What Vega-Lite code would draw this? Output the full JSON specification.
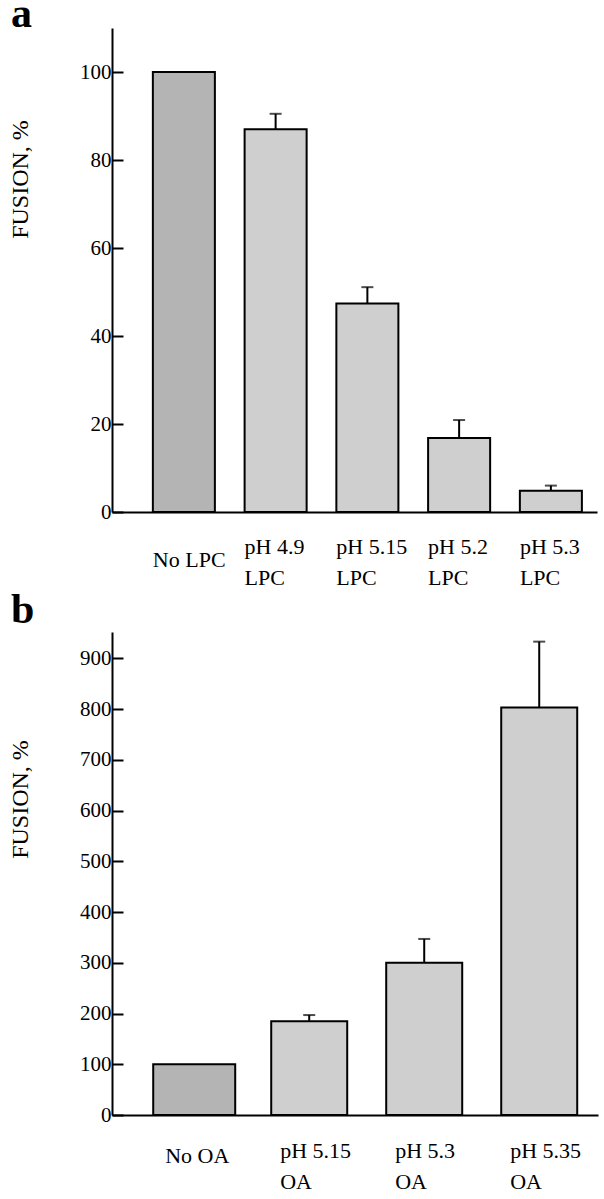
{
  "$schema": "https://vega.github.io/schema/vega-lite/v6.json",
  "padding": {"left": 8, "top": -7, "right": 5, "bottom": 2},
  "config": {
    "view": {"stroke": null},
    "font": "Liberation Serif",
    "axis": {
      "labelFont": "Liberation Serif",
      "titleFont": "Liberation Serif",
      "labelFontSize": 21,
      "labelColor": "black",
      "titleColor": "black",
      "domainColor": "black",
      "tickColor": "black",
      "domainWidth": 2,
      "tickWidth": 2,
      "grid": false
    },
    "title": {"font": "Liberation Serif", "fontSize": 42, "fontWeight": "bold", "anchor": "start", "color": "black", "frame": "group"},
    "concat": {"spacing": 1}
  },
  "vconcat": [
    {
      "title": {"text": "a", "dx": -101, "offset": -41, "baseline": "alphabetic"},
      "width": 485,
      "height": 484,
      "data": {"values": [
        {"cond": "No LPC", "fusion": 100, "upper": null, "pattern": "stipple"},
        {"cond": "pH 4.9\nLPC", "fusion": 87, "upper": 90.5, "pattern": "hatch"},
        {"cond": "pH 5.15\nLPC", "fusion": 47.4, "upper": 51.1, "pattern": "hatch"},
        {"cond": "pH 5.2\nLPC", "fusion": 16.8, "upper": 20.9, "pattern": "hatch"},
        {"cond": "pH 5.3\nLPC", "fusion": 4.85, "upper": 6.0, "pattern": "hatch"}
      ]},
      "encoding": {
        "x": {
          "field": "cond", "type": "nominal", "sort": null,
          "scale": {"paddingInner": 0.324, "paddingOuter": 0.305, "align": 0.73},
          "axis": {"title": null, "ticks": false, "labelAngle": 0, "labelAlign": "left", "labelOffset": -31, "labelBaseline": "middle", "labelFontSize": 22, "labelPadding": {"condition": {"test": "datum.value == 'No LPC'", "value": 47}, "value": 34}, "labelLineHeight": 31, "labelExpr": "split(datum.label, '\\n')"}
        }
      },
      "layer": [
        {
          "mark": {"type": "bar", "stroke": "black", "strokeWidth": 2},
          "encoding": {
            "y": {
              "field": "fusion", "type": "quantitative",
              "scale": {"domain": [0, 110], "nice": false},
              "axis": {"title": "FUSION, %", "values": [0, 20, 40, 60, 80, 100], "tickSize": -11, "labelPadding": 12, "titleFontSize": 24, "titleFontWeight": "normal", "titleBaseline": "alphabetic", "titleX": -85, "titleY": 151, "titleAngle": 270}
            },
            "fill": {"field": "pattern", "type": "nominal", "scale": {"domain": ["stipple", "hatch"], "range": ["#b4b4b4", "#cfcfcf"]}, "legend": null}
          }
        },
        {
          "transform": [{"filter": "datum.upper != null"}],
          "mark": {"type": "rule", "strokeWidth": 2, "color": "black"},
          "encoding": {"y": {"field": "fusion", "type": "quantitative"}, "y2": {"field": "upper"}}
        },
        {
          "transform": [{"filter": "datum.upper != null"}],
          "mark": {"type": "tick", "thickness": 2, "size": 12, "color": "black"},
          "encoding": {"y": {"field": "upper", "type": "quantitative"}}
        }
      ]
    },
    {
      "title": {"text": "b", "dx": -101, "offset": -33, "baseline": "alphabetic"},
      "width": 486,
      "height": 483,
      "data": {"values": [
        {"cond": "No OA", "fusion": 100, "upper": null, "pattern": "stipple"},
        {"cond": "pH 5.15\nOA", "fusion": 185, "upper": 197, "pattern": "hatch"},
        {"cond": "pH 5.3\nOA", "fusion": 300, "upper": 347, "pattern": "hatch"},
        {"cond": "pH 5.35\nOA", "fusion": 803, "upper": 933, "pattern": "hatch"}
      ]},
      "encoding": {
        "x": {
          "field": "cond", "type": "nominal", "sort": null,
          "scale": {"paddingInner": 0.34, "paddingOuter": 0.283, "align": 0.68},
          "axis": {"title": null, "ticks": false, "labelAngle": 0, "labelAlign": "left", "labelOffset": -29, "labelBaseline": "middle", "labelFontSize": 22, "labelPadding": {"condition": {"test": "datum.value == 'No OA'", "value": 40}, "value": 35}, "labelLineHeight": 31, "labelExpr": "split(datum.label, '\\n')"}
        }
      },
      "layer": [
        {
          "mark": {"type": "bar", "stroke": "black", "strokeWidth": 2},
          "encoding": {
            "y": {
              "field": "fusion", "type": "quantitative",
              "scale": {"domain": [0, 952], "nice": false},
              "axis": {"title": "FUSION, %", "values": [0, 100, 200, 300, 400, 500, 600, 700, 800, 900], "tickSize": -11, "labelPadding": 12, "titleFontSize": 24, "titleFontWeight": "normal", "titleBaseline": "alphabetic", "titleX": -85, "titleY": 167, "titleAngle": 270}
            },
            "fill": {"field": "pattern", "type": "nominal", "scale": {"domain": ["stipple", "hatch"], "range": ["#b4b4b4", "#cfcfcf"]}, "legend": null},
            "size": {"condition": {"test": "datum.pattern === 'stipple'", "value": 82}, "value": 76}
          }
        },
        {
          "transform": [{"filter": "datum.upper != null"}],
          "mark": {"type": "rule", "strokeWidth": 2, "color": "black"},
          "encoding": {"y": {"field": "fusion", "type": "quantitative"}, "y2": {"field": "upper"}}
        },
        {
          "transform": [{"filter": "datum.upper != null"}],
          "mark": {"type": "tick", "thickness": 2, "size": 12, "color": "black"},
          "encoding": {"y": {"field": "upper", "type": "quantitative"}}
        }
      ]
    }
  ]
}
